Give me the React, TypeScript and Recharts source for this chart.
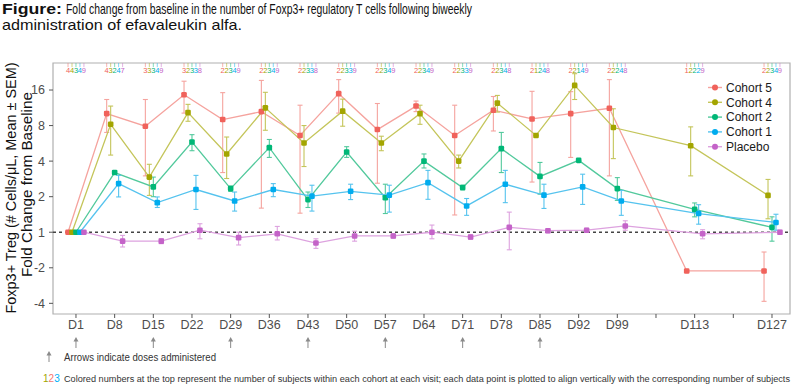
import React from "react"
import {
  ComposedChart,
  Line,
  Scatter,
  XAxis,
  YAxis,
  ErrorBar,
  ReferenceLine,
  ReferenceArea,
} from "recharts"

// visit days (study day) and axis tick settings
const days = [1, 8, 15, 22, 29, 36, 43, 50, 57, 64, 71, 78, 85, 92, 99, 113, 127]
const tickDays = [1, 8, 15, 22, 29, 36, 43, 50, 57, 64, 71, 78, 85, 92, 99, 106, 113, 120, 127]
const unlabeledDays = [106, 120]
const doseDays = [1, 15, 29, 43, 57, 71, 85]
const foldTicks = [-4, -2, 1, 2, 4, 8, 16]

// fold change from baseline (mean, mean-SEM, mean+SEM) and subjects per visit
const cohort5Mean = [1, 10.1, 7.9, 14.6, 9.0, 10.5, 6.6, 14.9, 7.4, 11.7, 6.6, 10.8, 9.1, 10.1, 11.2, 0.47, 0.47]
const cohort5Lo = [1, 7.0, 3.0, 10.2, 3.2, 1.6, 1.45, 10.2, 2.6, 10.5, 1.4, 7.2, 2.66, 4.3, 3.0, 0.47, 0.26]
const cohort5Hi = [1, 13.3, 13.3, 19.0, 15.2, 19.3, 11.9, 19.6, 12.3, 12.9, 11.9, 14.1, 15.6, 15.5, 19.6, 0.47, 0.68]
const cohort5N = [4, 4, 3, 3, 2, 2, 2, 2, 2, 2, 2, 2, 2, 2, 2, 1, 2]

const cohort4Mean = [1, 8.2, 2.93, 10.3, 4.6, 11.3, 5.7, 10.6, 5.7, 10.1, 4.0, 12.4, 6.6, 17.5, 7.7, 5.4, 2.05]
const cohort4Lo = [1, 4.5, 2.05, 8.7, 2.85, 7.3, 3.6, 7.9, 4.9, 8.2, 3.5, 10.4, 6.6, 13.3, 4.2, 3.0, 1.3]
const cohort4Hi = [1, 11.7, 3.76, 12.1, 6.4, 15.3, 8.0, 13.4, 6.5, 11.9, 4.5, 14.4, 6.6, 22, 11.1, 7.8, 2.8]
const cohort4N = [4, 3, 3, 2, 2, 2, 2, 2, 2, 2, 2, 2, 1, 2, 2, 2, 2]

const cohort2Mean = [1, 3.2, 2.42, 5.8, 2.34, 5.2, 1.89, 4.78, 1.96, 4.0, 2.39, 5.1, 2.97, 4.06, 2.34, 1.56, 1.1]
const cohort2Lo = [1, 3.1, 2.0, 4.9, 2.22, 4.3, 1.62, 4.3, 1.44, 3.5, 2.28, 3.2, 2.1, 4.06, 1.86, 1.35, 0.84]
const cohort2Hi = [1, 3.3, 2.93, 6.7, 2.46, 6.1, 2.19, 5.3, 2.55, 4.6, 2.5, 7.0, 3.9, 4.06, 2.9, 1.77, 1.35]
const cohort2N = [3, 2, 3, 3, 3, 3, 3, 3, 3, 3, 3, 3, 2, 1, 2, 2, 3]

const cohort1Mean = [1, 2.58, 1.78, 2.3, 1.84, 2.3, 2.02, 2.22, 2.06, 2.63, 1.67, 2.55, 2.06, 2.42, 1.84, 1.44, 1.21]
const cohort1Lo = [1, 1.99, 1.62, 1.56, 1.51, 2.0, 1.51, 1.89, 1.48, 1.9, 1.39, 1.78, 1.59, 1.72, 1.39, 1.17, 1.04]
const cohort1Hi = [1, 3.03, 1.99, 3.03, 2.19, 2.58, 2.5, 2.55, 2.5, 3.34, 1.93, 3.34, 2.55, 3.1, 2.26, 1.71, 1.42]
const cohort1N = [4, 4, 4, 3, 4, 4, 3, 3, 4, 4, 3, 4, 4, 4, 4, 2, 4]

const placeboMean = [1, 0.84, 0.84, 1.04, 0.9, 0.97, 0.81, 0.93, 0.93, 1.0, 0.91, 1.1, 1.03, 1.04, 1.13, 0.97, 1.0]
const placeboLo = [1, 0.75, 0.8, 0.88, 0.78, 0.86, 0.73, 0.84, 0.89, 0.88, 0.87, 0.71, 0.99, 1.0, 1.04, 0.88, 0.96]
const placeboHi = [1, 0.94, 0.88, 1.18, 1.0, 1.12, 0.88, 1.02, 0.97, 1.15, 0.95, 1.48, 1.07, 1.08, 1.25, 1.05, 1.04]
const placeboN = [9, 7, 9, 8, 9, 9, 8, 9, 9, 9, 9, 8, 8, 9, 8, 9, 9]

const DODGE = 0.72 // days between neighbouring groups
const COUNT_ROW = 4.56 // log2 level of the subject counts row
const X_DOMAIN = [-3.16, 130.26]
const Y_DOMAIN = [-2.3, 4.76]

// fold values: >=1 as is, "-2" style for decreases; ratios below 1 also work
const toLog = (v: number) => (v < 0 ? -Math.log2(-v) : Math.log2(v))
const foldLabel = (l: number) => {
  const v = Math.round(Math.pow(2, Math.abs(l)))
  return l < 0 ? `-${v}` : `${v}`
}

const series = [
  { name: "Cohort 5", color: "#F0625B", light: "#F5A39E", mean: cohort5Mean, lo: cohort5Lo, hi: cohort5Hi, n: cohort5N, slot: -2 },
  { name: "Cohort 4", color: "#A3A500", light: "#C4C55A", mean: cohort4Mean, lo: cohort4Lo, hi: cohort4Hi, n: cohort4N, slot: -1 },
  { name: "Cohort 2", color: "#00B777", light: "#52C99C", mean: cohort2Mean, lo: cohort2Lo, hi: cohort2Hi, n: cohort2N, slot: 0 },
  { name: "Cohort 1", color: "#00ACEE", light: "#55C3EE", mean: cohort1Mean, lo: cohort1Lo, hi: cohort1Hi, n: cohort1N, slot: 1 },
  { name: "Placebo", color: "#C463C8", light: "#DDA2DF", mean: placeboMean, lo: placeboLo, hi: placeboHi, n: placeboN, slot: 2 },
]

const lineData = series.map((s) =>
  days.map((d, i) => {
    const y = toLog(s.mean[i])
    return { x: d + s.slot * DODGE, y, err: [y - toLog(s.lo[i]), toLog(s.hi[i]) - y] }
  })
)

const countData = series.map((s) =>
  days.map((d, i) => ({ x: d + s.slot * DODGE, y: COUNT_ROW, n: s.n[i] }))
)

const Arrow = ({ x, y }: { x: number; y: number }) => (
  <g>
    <line x1={x} x2={x} y1={y + 3} y2={y + 11} stroke="#8a8a8a" strokeWidth={1} />
    <polygon points={`${x},${y} ${x - 2.5},${y + 4.5} ${x + 2.5},${y + 4.5}`} fill="#8a8a8a" />
  </g>
)

const DayTick = (props: any) => {
  const { x, y, payload } = props
  const day = payload.value
  return (
    <g>
      {!unlabeledDays.includes(day) && (
        <text x={x} y={y} dy={9} textAnchor="middle" fontSize={12.5} fill="#4d4d4d">
          {"D" + day}
        </text>
      )}
      {doseDays.includes(day) && <Arrow x={x} y={y + 17} />}
    </g>
  )
}

const makeDot = (color: string) => (p: any) => (
  <rect
    key={`d-${p.index}`}
    x={p.cx - 2.8}
    y={p.cy - 2.8}
    width={5.6}
    height={5.6}
    rx={1.3}
    fill={color}
  />
)

const makeCount = (color: string) => (p: any) => (
  <g>
    <line x1={p.cx} x2={p.cx} y1={p.cy - 7} y2={p.cy - 3} stroke={color} strokeWidth={0.8} opacity={0.6} />
    <text x={p.cx} y={p.cy + 3} textAnchor="middle" fontSize={7.5} fill={color}>
      {p.payload.n}
    </text>
  </g>
)

export default function App() {
  const font = "'Liberation Sans', Arial, sans-serif"
  return (
    <div
      style={{
        position: "absolute",
        left: 0,
        top: 0,
        width: 800,
        height: 385,
        background: "#fff",
        fontFamily: font,
      }}
    >
      <ComposedChart width={800} height={385} margin={{ top: 63, right: 10, bottom: 41, left: 8 }}>
        <XAxis
          type="number"
          dataKey="x"
          domain={X_DOMAIN}
          allowDataOverflow
          ticks={tickDays}
          interval={0}
          axisLine={false}
          tickSize={4}
          tickMargin={2}
          tickLine={{ stroke: "#555" }}
          tick={<DayTick />}
          height={30}
        />
        <YAxis
          type="number"
          dataKey="y"
          domain={Y_DOMAIN}
          allowDataOverflow
          ticks={foldTicks.map(toLog)}
          tickFormatter={foldLabel}
          axisLine={false}
          tickSize={4}
          tickMargin={4}
          tickLine={{ stroke: "#555" }}
          tick={{ fill: "#4d4d4d", fontSize: 12.5 }}
          width={45}
        />
        <ReferenceArea
          x1={X_DOMAIN[0]}
          x2={X_DOMAIN[1]}
          y1={Y_DOMAIN[0]}
          y2={Y_DOMAIN[1]}
          fill="none"
          stroke="#b0b0b0"
          strokeWidth={1.2}
        />
        <ReferenceLine y={0} stroke="#444" strokeDasharray="3 3" strokeWidth={1.4} />
        {series.map((s, k) => (
          <Line
            key={s.name}
            data={lineData[k]}
            dataKey="y"
            name={s.name}
            type="linear"
            stroke={s.light}
            strokeWidth={1.3}
            dot={makeDot(s.color)}
            activeDot={false}
            isAnimationActive={false}
          >
            <ErrorBar dataKey="err" direction="y" width={2.5} stroke={s.light} strokeWidth={1.1} />
          </Line>
        ))}
        {series.map((s, k) => (
          <Scatter
            key={"n-" + s.name}
            data={countData[k]}
            dataKey="y"
            shape={makeCount(s.color)}
            isAnimationActive={false}
          />
        ))}
      </ComposedChart>

      <svg
        width={800}
        height={385}
        style={{ position: "absolute", left: 0, top: 0, pointerEvents: "none" }}
        fontFamily={font}
      >
        {/* title */}
        <text x={2} y={13.5} fontSize={15} fontWeight="bold" fill="#111" textLength={60} lengthAdjust="spacingAndGlyphs">
          Figure:
        </text>
        <text x={66} y={13.5} fontSize={15} fill="#111" textLength={406} lengthAdjust="spacingAndGlyphs">
          Fold change from baseline in the number of Foxp3+ regulatory T cells following biweekly
        </text>
        <text x={2} y={29.5} fontSize={15} fill="#111" textLength={240} lengthAdjust="spacingAndGlyphs">
          administration of efavaleukin alfa.
        </text>

        {/* y axis title */}
        <text
          transform="translate(16,188) rotate(-90)"
          textAnchor="middle"
          fontSize={14.5}
          fill="#111"
          textLength={251}
          lengthAdjust="spacingAndGlyphs"
        >
          Foxp3+ Treg (# Cells/μL, Mean ± SEM)
        </text>
        <text
          transform="translate(32,184.5) rotate(-90)"
          textAnchor="middle"
          fontSize={14.5}
          fill="#111"
          textLength={185}
          lengthAdjust="spacingAndGlyphs"
        >
          Fold Change from Baseline
        </text>

        {/* legend */}
        {series.map((s, i) => {
          const y = 87.5 + i * 14.8
          return (
            <g key={"lg-" + s.name}>
              <line x1={708} x2={722} y1={y} y2={y} stroke={s.light} strokeWidth={1.4} />
              <circle cx={715} cy={y} r={3} fill={s.color} />
              <text x={726} y={y + 4.3} fontSize={12} fill="#1a1a1a">
                {s.name}
              </text>
            </g>
          )
        })}

        {/* notes */}
        <Arrow x={49} y={351} />
        <text x={64} y={361} fontSize={10} fill="#333" textLength={152} lengthAdjust="spacingAndGlyphs">
          Arrows indicate doses administered
        </text>
        <text x={43} y={382} fontSize={10}>
          <tspan fill="#A3A500">1</tspan>
          <tspan fill="#F8766D">2</tspan>
          <tspan fill="#00B0F6">3</tspan>
        </text>
        <text x={64} y={382} fontSize={9.2} fill="#333" textLength={726} lengthAdjust="spacingAndGlyphs">
          Colored numbers at the top represent the number of subjects within each cohort at each visit; each data point is plotted to align vertically with the corresponding number of subjects
        </text>
      </svg>
    </div>
  )
}
